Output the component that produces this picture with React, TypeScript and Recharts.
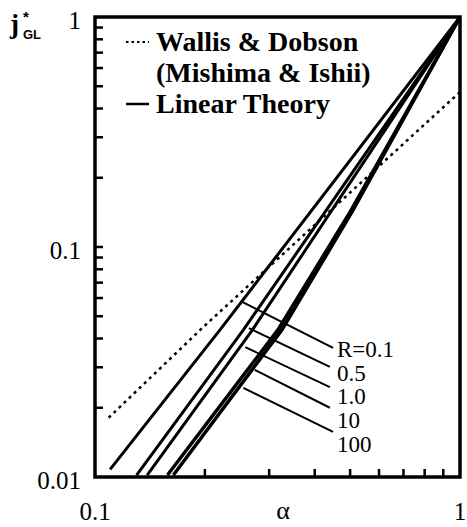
import React from 'react'
import {
  ComposedChart,
  Line,
  XAxis,
  YAxis,
  ReferenceArea,
  ReferenceDot,
  Legend,
  Label,
} from 'recharts'

const SERIF = '"Liberation Serif", "Times New Roman", serif'
const SANS = '"Liberation Sans", Arial, sans-serif'

// axis ticks (log scales)
const alphaTicks = [0.1, 0.2, 0.3, 0.4, 0.5, 0.6, 0.7, 0.8, 0.9, 1]
const jTicks = [
  0.01, 0.02, 0.03, 0.04, 0.05, 0.06, 0.07, 0.08, 0.09,
  0.1, 0.2, 0.3, 0.4, 0.5, 0.6, 0.7, 0.8, 0.9, 1,
]
const majorTicks = [0.01, 0.1, 1]

// Wallis & Dobson (Mishima & Ishii), dotted
const wallisAlpha = [0.109, 0.198, 1]
const wallisJ = [0.0181, 0.0449, 0.472]

// linear theory, one curve per R
const rNames = ['R=0.1', '0.5', '1.0', '10', '100']
const linAlpha = [
  [0.11, 0.22, 1],
  [0.13, 0.255, 1],
  [0.139, 0.27, 1],
  [0.158, 0.317, 0.5, 1],
  [0.164, 0.325, 0.506, 1],
]
const linJ = [
  [0.0108, 0.0436, 1],
  [0.0102, 0.0436, 1],
  [0.0102, 0.0436, 1],
  [0.0102, 0.0436, 0.142, 1],
  [0.0102, 0.0436, 0.142, 1],
]

// leader lines from each curve to its label
const leaderAlpha = [
  [0.253, 0.449],
  [0.264, 0.44],
  [0.258, 0.44],
  [0.274, 0.44],
  [0.255, 0.449],
]
const leaderJ = [
  [0.0577, 0.0364],
  [0.0444, 0.0301],
  [0.0367, 0.0246],
  [0.0292, 0.02],
  [0.0244, 0.0157],
]
const labelAlpha = 0.46
const labelJ = [0.036, 0.0283, 0.0225, 0.0177, 0.0139]

const zip = (a: number[], j: number[]) => a.map((v, i) => ({ a: v, j: j[i] }))

const YTick = (props: any) => {
  const { x, y, payload } = props
  const v = payload.value
  if (!majorTicks.includes(v)) return <g />
  return (
    <text x={x - 14} y={y + 12} textAnchor="end" fontFamily={SERIF} fontSize={25} fill="#000">
      {String(v)}
    </text>
  )
}

const XTick = (props: any) => {
  const { x, y, payload } = props
  const v = payload.value
  if (!majorTicks.includes(v)) return <g />
  return (
    <text x={x} y={y + 43} textAnchor="middle" fontFamily={SERIF} fontSize={25} fill="#000">
      {String(v)}
    </text>
  )
}

const YLabel = () => (
  <g fill="#000">
    <text x={10} y={33} fontFamily={SERIF} fontWeight="bold" fontSize={27}>j</text>
    <text x={23} y={22} fontFamily={SANS} fontWeight="bold" fontSize={15}>*</text>
    <text x={23} y={39} fontFamily={SANS} fontWeight="bold" fontSize={13}>GL</text>
  </g>
)

const XLabel = () => (
  <text x={283} y={519} textAnchor="middle" fontFamily={SERIF} fontSize={26} fill="#000">
    α
  </text>
)

const legendRows = [
  { text: 'Wallis & Dobson', dash: '2.5 3', sample: true },
  { text: '(Mishima & Ishii)', dash: '', sample: false },
  { text: 'Linear Theory', dash: '', sample: true },
]

const LegendContent = () => (
  <div style={{ fontFamily: SERIF, fontWeight: 'bold', fontSize: 28, lineHeight: '31px', color: '#000' }}>
    {legendRows.map((r) => (
      <div key={r.text} style={{ display: 'flex', alignItems: 'center', whiteSpace: 'nowrap' }}>
        <svg width={26} height={31} style={{ marginRight: 6 }}>
          {r.sample && (
            <line
              x1={2}
              x2={25}
              y1={16}
              y2={16}
              stroke="#000"
              strokeWidth={r.dash ? 2 : 2.5}
              strokeDasharray={r.dash || undefined}
            />
          )}
        </svg>
        <span>{r.text}</span>
      </div>
    ))}
  </div>
)

const minorJ = jTicks.filter((v) => v !== 0.01 && v !== 1)
const minorAlpha = alphaTicks.filter((v) => !majorTicks.includes(v))

export default function App() {
  return (
    <div style={{ position: 'absolute', left: 0, top: 0, width: 467, height: 527, background: '#fff' }}>
      <ComposedChart width={467} height={527} margin={{ top: 17, right: 7, bottom: 0, left: 0 }}>
        <XAxis
          dataKey="a"
          type="number"
          scale="log"
          domain={[0.1, 1]}
          allowDataOverflow
          ticks={alphaTicks}
          interval={0}
          height={50}
          axisLine={false}
          tickLine={false}
          tickSize={0}
          tickMargin={0}
          tick={<XTick />}
          label={<Label content={<XLabel />} />}
        />
        <YAxis
          dataKey="j"
          type="number"
          scale="log"
          domain={[0.01, 1]}
          allowDataOverflow
          ticks={jTicks}
          interval={0}
          width={95}
          axisLine={false}
          tickLine={false}
          tickSize={0}
          tickMargin={0}
          tick={<YTick />}
          label={<Label content={<YLabel />} />}
        />
        <ReferenceArea
          x1={0.1}
          x2={1}
          y1={0.01}
          y2={1}
          fill="none"
          fillOpacity={0}
          stroke="#000"
          strokeWidth={3.5}
        />
        {/* inward tick marks */}
        {minorJ.map((v) => (
          <ReferenceDot
            key={'yt' + v}
            x={0.1}
            y={v}
            r={0}
            shape={(p: any) => (
              <line x1={p.cx} x2={p.cx + 8} y1={p.cy} y2={p.cy} stroke="#000" strokeWidth={2.5} />
            )}
          />
        ))}
        {minorAlpha.map((v) => (
          <ReferenceDot
            key={'xt' + v}
            x={v}
            y={0.01}
            r={0}
            shape={(p: any) => (
              <line x1={p.cx} x2={p.cx} y1={p.cy} y2={p.cy - 8} stroke="#000" strokeWidth={2.5} />
            )}
          />
        ))}
        <Line
          data={zip(wallisAlpha, wallisJ)}
          dataKey="j"
          name="Wallis & Dobson"
          type="linear"
          stroke="#000"
          strokeWidth={2.5}
          strokeDasharray="3 4"
          dot={false}
          isAnimationActive={false}
        />
        {rNames.map((n, i) => (
          <Line
            key={n}
            data={zip(linAlpha[i], linJ[i])}
            dataKey="j"
            name={n}
            type="linear"
            stroke="#000"
            strokeWidth={i >= 3 ? 3.5 : 3}
            dot={false}
            legendType="none"
            isAnimationActive={false}
          />
        ))}
        {rNames.map((n, i) => (
          <Line
            key={'lead' + n}
            data={zip(leaderAlpha[i], leaderJ[i])}
            dataKey="j"
            type="linear"
            stroke="#000"
            strokeWidth={2}
            dot={false}
            legendType="none"
            isAnimationActive={false}
          />
        ))}
        {rNames.map((n, i) => (
          <ReferenceDot
            key={'lbl' + n}
            x={labelAlpha}
            y={labelJ[i]}
            r={0}
            shape={(p: any) => (
              <text x={p.cx} y={p.cy + 8} fontFamily={SERIF} fontSize={23} fill="#000">
                {n}
              </text>
            )}
          />
        ))}
        <Legend
          layout="vertical"
          align="center"
          verticalAlign="middle"
          content={<LegendContent />}
          wrapperStyle={{ top: 26, left: 124, width: 'auto', height: 'auto' }}
        />
      </ComposedChart>
    </div>
  )
}
